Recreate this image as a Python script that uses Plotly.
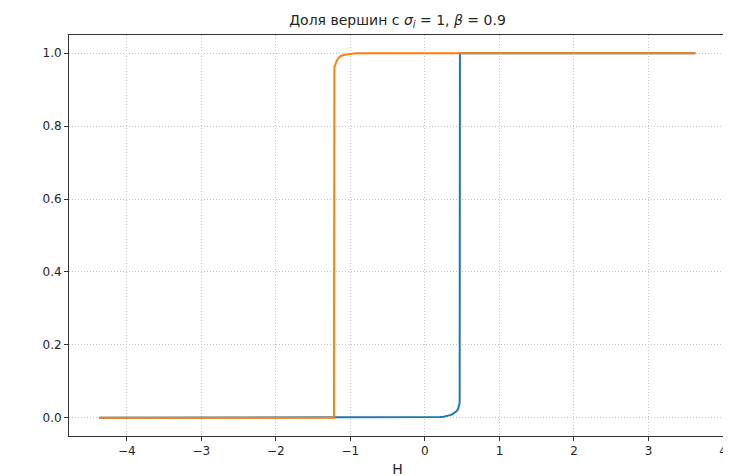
import plotly.graph_objects as go

# Blue series (sampled curve)
H_blue = [-4.37, -3.0, -2.0, -1.0, 0.0, 0.1, 0.2, 0.25, 0.3, 0.35, 0.38, 0.41,
          0.43, 0.445, 0.455, 0.462, 0.466, 0.47, 1.0, 2.0, 3.0, 3.63]
frac_blue = [0.0, 0.0, 0.0, 0.0, 0.0005, 0.001, 0.002, 0.003, 0.005, 0.008, 0.011,
             0.015, 0.019, 0.024, 0.03, 0.037, 0.045, 1.0, 1.0, 1.0, 1.0, 1.0]

# Orange series
H_orange = [-4.37, -3.0, -2.0, -1.22, -1.215, -1.2, -1.18, -1.16, -1.13, -1.09,
            -1.05, -1.0, -0.95, -0.9, 0.0, 1.0, 2.0, 3.0, 3.63]
frac_orange = [0.0, 0.0, 0.0, 0.0, 0.962, 0.972, 0.981, 0.987, 0.992, 0.995,
               0.997, 0.998, 0.999, 1.0, 1.0, 1.0, 1.0, 1.0, 1.0]

x_ticks = [-4, -3, -2, -1, 0, 1, 2, 3, 4]
y_ticks = [0.0, 0.2, 0.4, 0.6, 0.8, 1.0]

fig = go.Figure()
fig.add_trace(go.Scatter(x=H_blue, y=frac_blue, mode="lines",
                         line=dict(color="#1f77b4", width=2), showlegend=False))
fig.add_trace(go.Scatter(x=H_orange, y=frac_orange, mode="lines",
                         line=dict(color="#ff7f0e", width=2), showlegend=False))

axis_common = dict(
    showline=True, linecolor="#333333", linewidth=1, mirror=True,
    ticks="outside", ticklen=4, tickwidth=1, tickcolor="#333333",
    showgrid=True, gridcolor="#c4c4c4", griddash="1px,2px", gridwidth=1,
    zeroline=False, automargin=False,
    tickfont=dict(family="DejaVu Sans", size=12, color="#262626"),
)

fig.update_xaxes(range=[-4.776, 4.04], tickvals=x_ticks,
                 title=dict(text="H", font=dict(family="DejaVu Sans", size=14, color="#262626"),
                            standoff=6),
                 **axis_common)
fig.update_yaxes(range=[-0.05, 1.05], tickvals=y_ticks, tickformat=".1f", **axis_common)

fig.update_layout(
    template="none",
    width=731, height=476,
    margin=dict(l=61, r=13, t=27, b=48),
    paper_bgcolor="white", plot_bgcolor="white",
    title=dict(text="Доля вершин с <i>σ</i><sub><i>i</i></sub> = 1, <i>β</i> = 0.9",
               x=0.5, xref="paper", xanchor="center", y=0.975, yanchor="middle",
               font=dict(family="DejaVu Sans", size=14, color="#262626")),
)

fig.write_html("out.html")
